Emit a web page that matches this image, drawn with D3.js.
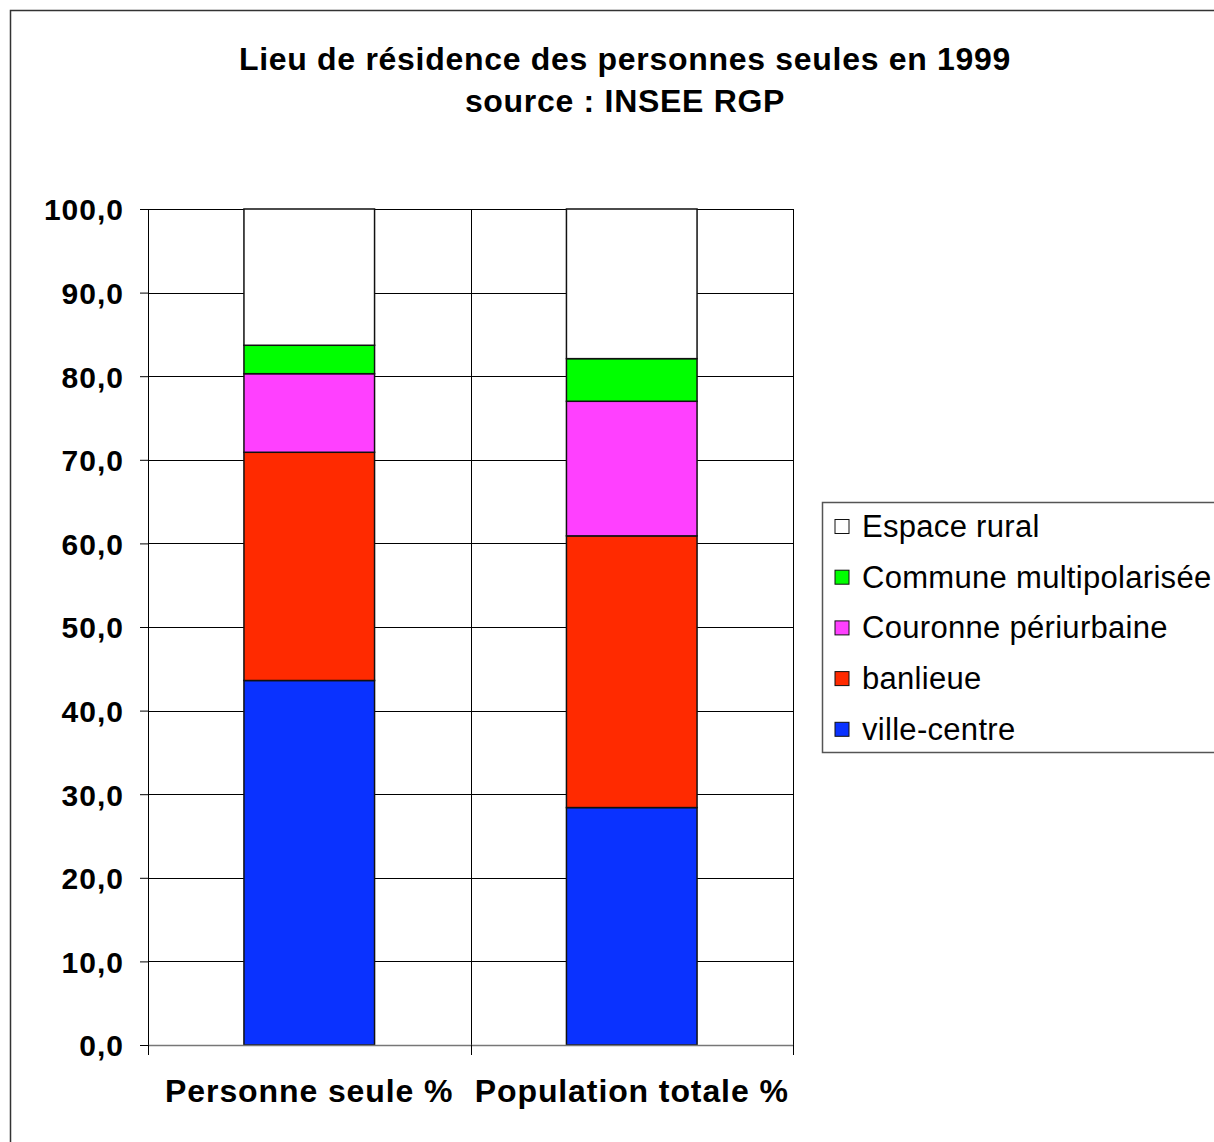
<!DOCTYPE html>
<html>
<meta charset="utf-8">
<head>
<style>
body { margin: 0; background: #fff; }
svg text { font-family: "Liberation Sans", Arial, sans-serif; }
.title { font-size: 32px; font-weight: bold; letter-spacing: 0.7px; }
.axis text { font-size: 30px; font-weight: bold; fill: #000; letter-spacing: 1px; }
.grid line { stroke: #000; stroke-width: 1; shape-rendering: crispEdges; }
.legend text { font-size: 31px; fill: #000; letter-spacing: 0.3px; }
</style>
</head>
<body>
<svg width="1214" height="1142"></svg>
<script src="https://d3js.org/d3.v7.min.js"></script>
<script>

// chart values
var categories = ["Personne seule %", "Population totale %"];
var seriesNames = ["ville-centre", "banlieue", "Couronne périurbaine", "Commune multipolarisée", "Espace rural"];
var villeCentre = [43.6, 28.4];
var banlieue = [27.3, 32.5];
var couronne = [9.4, 16.1];
var commune = [3.4, 5.1];
var rural = [16.3, 17.9];
var colors = ["#0a32ff", "#ff2a00", "#ff40ff", "#00ff00", "#ffffff"];
var yTicks = [0, 10, 20, 30, 40, 50, 60, 70, 80, 90, 100];

var svg = d3.select("svg");

// outer frame
svg.append("rect")
  .attr("x", 10.5).attr("y", 10.5)
  .attr("width", 1250).attr("height", 1200)
  .attr("fill", "#fff").attr("stroke", "#333").attr("stroke-width", 1.5);

svg.append("text").attr("class", "title")
  .attr("x", 625).attr("y", 70).attr("text-anchor", "middle")
  .text("Lieu de résidence des personnes seules en 1999");
svg.append("text").attr("class", "title")
  .attr("x", 625).attr("y", 112).attr("text-anchor", "middle")
  .text("source : INSEE RGP");

var plotL = 148, plotR = 793, plotT = 209, plotB = 1045;

var x = d3.scaleBand().domain(categories).range([plotL, plotR]).padding(0);
var y = d3.scaleLinear().domain([0, 100]).range([plotB, plotT]);
var barW = x.bandwidth() * 0.405;

// build stacked table
var table = categories.map(function(c, i) {
  return {
    cat: c,
    "ville-centre": villeCentre[i],
    "banlieue": banlieue[i],
    "Couronne périurbaine": couronne[i],
    "Commune multipolarisée": commune[i],
    "Espace rural": rural[i]
  };
});
var stacked = d3.stack().keys(seriesNames)(table);

// gridlines
var grid = svg.append("g").attr("class", "grid");
grid.selectAll("line.h").data(yTicks.slice(1)).enter().append("line")
  .attr("x1", plotL).attr("x2", plotR)
  .attr("y1", function(d) { return Math.round(y(d)) + 0.5; })
  .attr("y2", function(d) { return Math.round(y(d)) + 0.5; });
grid.selectAll("line.v").data([plotL, x(categories[1]), plotR]).enter().append("line")
  .attr("x1", function(d) { return Math.round(d) + 0.5; })
  .attr("x2", function(d) { return Math.round(d) + 0.5; })
  .attr("y1", plotT).attr("y2", plotB);

// bars
svg.append("g").selectAll("g").data(stacked).enter().append("g")
  .attr("fill", function(d, i) { return colors[i]; })
  .selectAll("rect").data(function(d) { return d; }).enter().append("rect")
  .attr("x", function(d) { return x(d.data.cat) + (x.bandwidth() - barW) / 2; })
  .attr("y", function(d) { return y(d[1]); })
  .attr("width", barW)
  .attr("height", function(d) { return y(d[0]) - y(d[1]); })
  .attr("stroke", "#111").attr("stroke-width", 1.5);

// y axis
var yAxis = d3.axisLeft(y).tickValues(yTicks).tickSize(8).tickPadding(16)
  .tickFormat(function(d) { return d3.format(".1f")(d).replace(".", ","); });
svg.append("g").attr("class", "axis")
  .attr("transform", "translate(" + plotL + ",0)")
  .call(yAxis)
  .call(function(g) { g.select(".domain").attr("stroke", "#000"); })
  .selectAll("text").attr("dy", "0.36em");

// x axis
var xAxis = d3.axisBottom(x).tickSize(0).tickPadding(34);
var xg = svg.append("g").attr("class", "axis")
  .attr("transform", "translate(0," + plotB + ")")
  .call(xAxis);
xg.select(".domain").attr("stroke", "#777").attr("stroke-width", 1.5);
xg.selectAll(".tick text").style("font-size", "32px").style("letter-spacing", "0.9px");
xg.selectAll("line.sep").data([plotL, x(categories[1]), plotR]).enter().append("line")
  .attr("x1", function(d) { return Math.round(d) + 0.5; })
  .attr("x2", function(d) { return Math.round(d) + 0.5; })
  .attr("y1", 0).attr("y2", 10).attr("stroke", "#000");

// legend
var lg = svg.append("g").attr("class", "legend")
  .attr("transform", "translate(822,502)");
lg.append("rect").attr("x", 0.5).attr("y", 0.5)
  .attr("width", 420).attr("height", 250)
  .attr("fill", "#fff").attr("stroke", "#555").attr("stroke-width", 1.5);
var order = seriesNames.slice().reverse();
var item = lg.selectAll("g.item").data(order).enter().append("g")
  .attr("transform", function(d, i) { return "translate(13," + (24 + i * 50.7) + ")"; });
item.append("rect")
  .attr("x", 0).attr("y", -6.5).attr("width", 14).attr("height", 14)
  .attr("fill", function(d) { return colors[seriesNames.indexOf(d)]; })
  .attr("stroke", "#111").attr("stroke-width", 1);
item.append("text")
  .attr("x", 27).attr("y", 11)
  .text(function(d) { return d; });

</script>
</body>
</html>
